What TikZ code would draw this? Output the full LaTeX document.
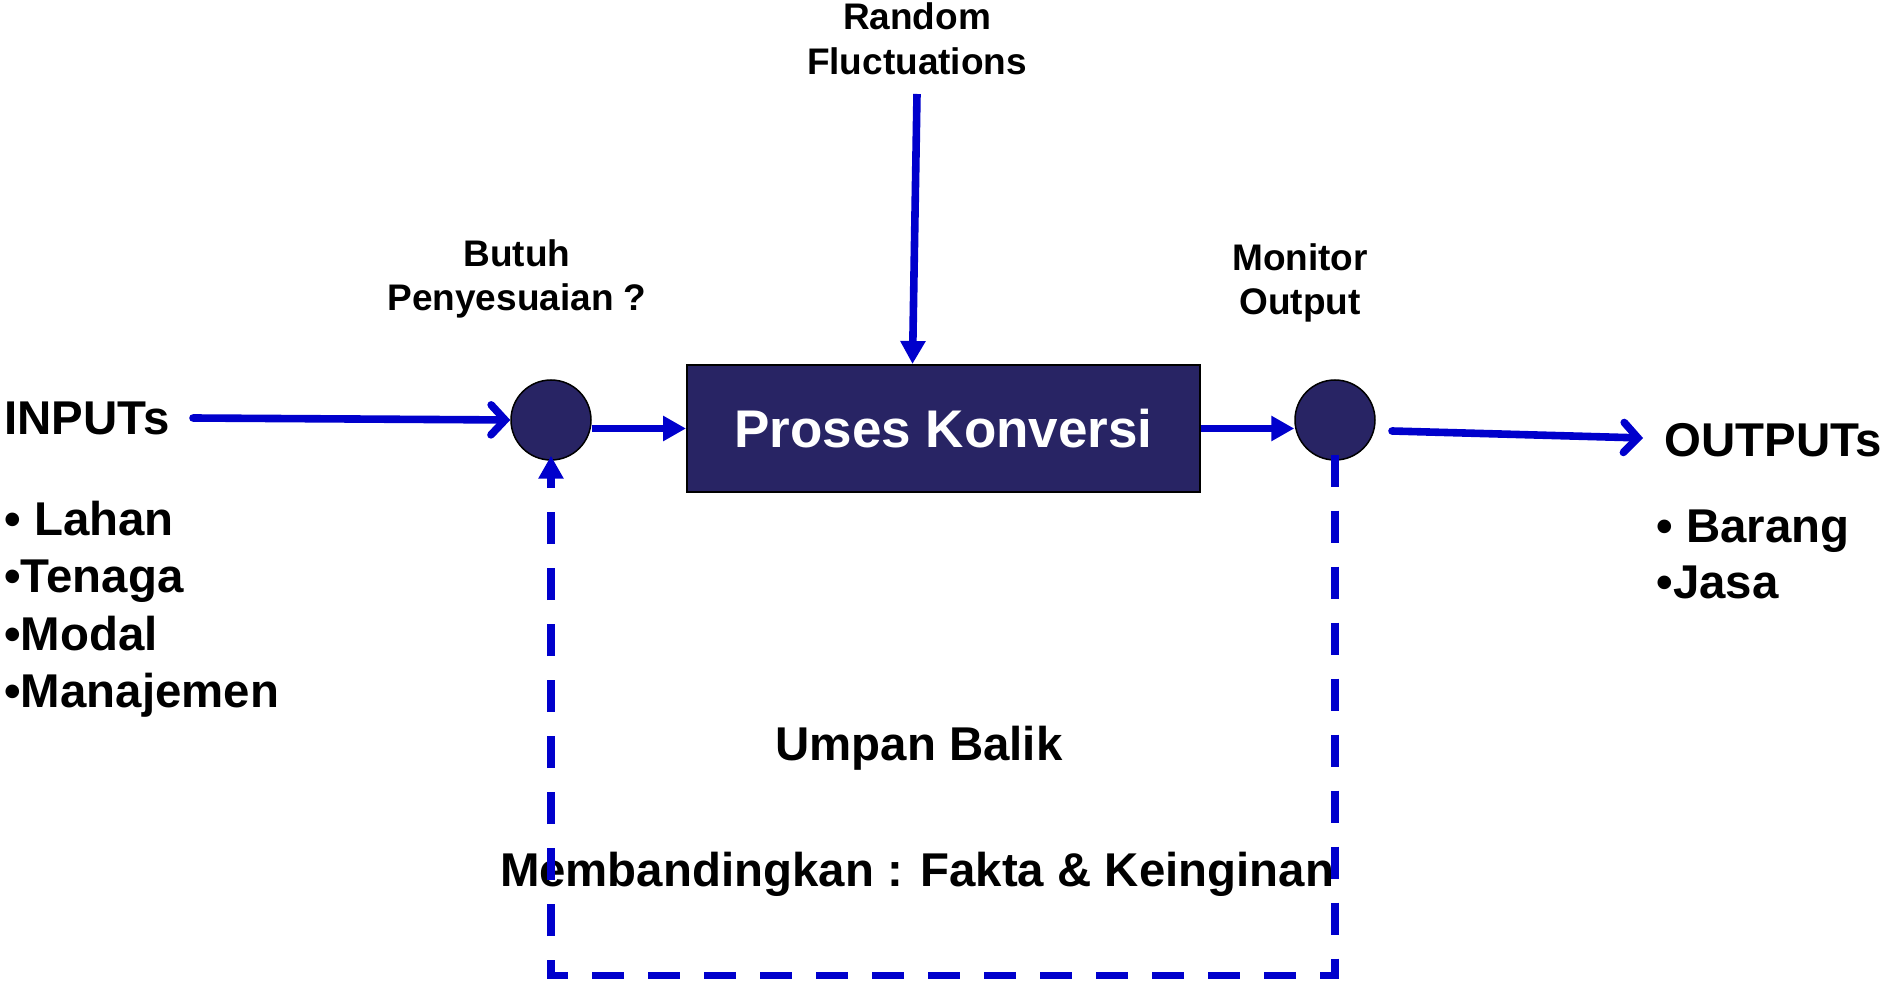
\documentclass[tikz,border=0pt]{standalone}
\usepackage{fontspec}
\setmainfont{Liberation Sans}
\usetikzlibrary{arrows.meta,calc}
\definecolor{navy}{RGB}{40,36,100}
\definecolor{flow}{RGB}{0,0,204}
\begin{document}
\begin{tikzpicture}[x=0.5pt,y=-0.5pt,
  bigtext/.style={font=\fontsize{23.7}{28.5}\selectfont\bfseries, inner sep=0pt},
  smalltext/.style={font=\fontsize{18.5}{22}\selectfont\bfseries, inner sep=0pt},
  junction/.style={circle, fill=navy, draw=black, line width=0.75pt, minimum size=40pt, inner sep=0pt},
  process/.style={rectangle, fill=navy, draw=black, line width=1pt, minimum width=256.5pt,
    minimum height=63.5pt, inner sep=0pt, text=white, font=\fontsize{26.5}{30}\selectfont\bfseries},
  flowline/.style={draw=flow, line width=3.8pt},
  solidtip/.style={flowline, -{Triangle[length=11.5pt,width=12pt]}},
  barbtip/.style={flowline, line cap=round, -{Straight Barb[length=7pt,width=15pt,line cap=round]}},
  feedback/.style={flowline, dash pattern=on 16pt off 12pt, -{Triangle[length=11.5pt,width=12pt]}}
]
\useasboundingbox (0,0) rectangle (1887,983);

% labels
\node[smalltext, anchor=base] (rf1) at (917,30) {Random};
\node[smalltext, anchor=base] (rf2) at (917,75) {Fluctuations};
\node[smalltext, anchor=base] (adj1) at (517,267) {Butuh};
\node[smalltext, anchor=base] (adj2) at (517,311) {Penyesuaian ?};
\node[smalltext, anchor=base] (mon1) at (1300,271) {Monitor};
\node[smalltext, anchor=base] (mon2) at (1300,315) {Output};

\node[bigtext, anchor=base west] (in0) at (4,435) {INPUTs};
\node[bigtext, anchor=base west] (in1) at (4,536) {• Lahan};
\node[bigtext, anchor=base west] (in2) at (4,593) {•Tenaga};
\node[bigtext, anchor=base west] (in3) at (4,651) {•Modal};
\node[bigtext, anchor=base west] (in4) at (4,708) {•Manajemen};

\node[bigtext, anchor=base west] (out0) at (1664,457) {OUTPUTs};
\node[bigtext, anchor=base west] (out1) at (1656,543) {• Barang};
\node[bigtext, anchor=base west] (out2) at (1656,599) {•Jasa};

\node[bigtext, anchor=base] (fb1) at (919,761) {Umpan Balik};
\node[bigtext, anchor=base] (fb2) at (917,887) {Membandingkan : Fakta \& Keinginan};

% junctions and the conversion block
\node[junction] (adj) at (551,420) {};
\node[process] (box) at (943.5,428.5) {Proses Konversi};
\node[junction] (mon) at (1335,420) {};

% free ends of the flow lines
\coordinate (inStart) at (193,418);
\coordinate (outStart) at (1392,431);
\coordinate (outEnd) at (1643,438);
\coordinate (rfStart) at (917,94);
\coordinate (fbBase) at (0,975.5);

% main flow
\draw[barbtip] (inStart) -- (adj.west);
\draw[solidtip] (box.west -| adj.east) -- (box.west);
\draw[solidtip] (box.east) -- (box.east -| mon.west);
\draw[barbtip] (outStart) -- (outEnd);
\draw[solidtip] (rfStart) -- ($(box.north)+(-31,0)$);

% feedback loop
\draw[feedback] ($(mon.south)+(0,-6)$) -- (mon.south |- fbBase) -- (adj.south |- fbBase) -- ($(adj.south)+(0,-5)$);
\end{tikzpicture}
\end{document}
